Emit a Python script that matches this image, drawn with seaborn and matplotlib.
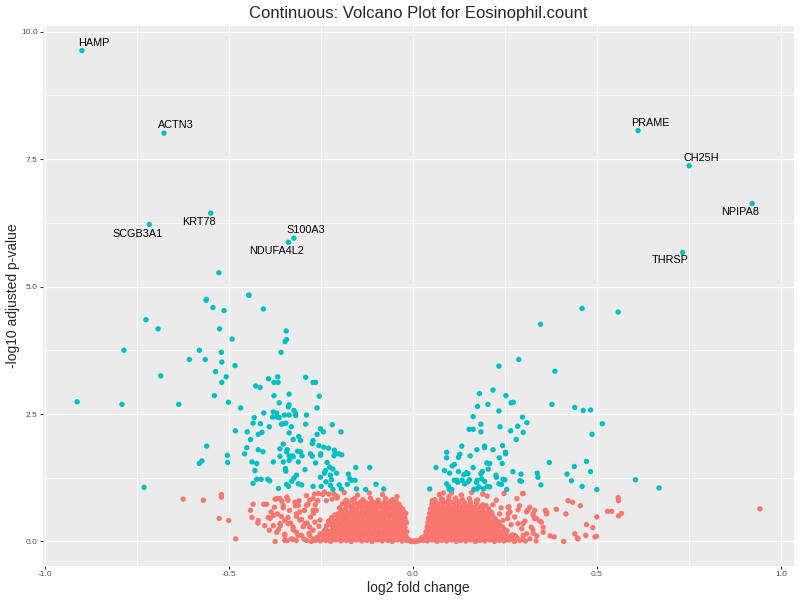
import pandas as pd
import matplotlib
matplotlib.use("Agg")
import matplotlib.pyplot as plt
from matplotlib.ticker import MultipleLocator, FixedLocator
import seaborn as sns

# -----------------------------
# Data
# -----------------------------
# labelled genes: name, log2 fold change, -log10 adjusted p, label offset (px)
label_genes = ["HAMP", "ACTN3", "SCGB3A1", "KRT78", "S100A3", "NDUFA4L2",
               "PRAME", "CH25H", "NPIPA8", "THRSP"]
label_fc = [-0.899, -0.676, -0.716, -0.549, -0.323, -0.338, 0.612, 0.751, 0.922, 0.733]
label_p = [9.63, 8.01, 6.22, 6.44, 5.95, 5.87, 8.06, 7.37, 6.63, 5.67]
label_dx = [12, 12, -12, -12, 12, -12, 12, 12, -12, -12]
label_dy = [8, 8, -10, -9, 8, -9, 8, 8, -9, -8]

# significant genes, negative fold change
sig_left = [
    (-0.446, 4.83), (-0.562, 4.73), (-0.543, 4.59), (-0.513, 4.53), (-0.406, 4.56),
    (-0.725, 4.35), (-0.692, 4.17), (-0.525, 4.17), (-0.344, 4.13), (-0.343, 3.96),
    (-0.491, 3.97), (-0.347, 3.92), (-0.785, 3.75), (-0.580, 3.75), (-0.520, 3.71),
    (-0.358, 3.71), (-0.607, 3.57), (-0.564, 3.57), (-0.519, 3.52), (-0.483, 3.45),
    (-0.536, 3.33), (-0.685, 3.25), (-0.507, 3.23), (-0.519, 3.12), (-0.392, 3.19),
    (-0.367, 3.23), (-0.366, 3.12), (-0.377, 3.12), (-0.291, 3.22), (-0.271, 3.12),
    (-0.264, 3.12), (-0.427, 3.05), (-0.415, 3.02), (-0.377, 2.86), (-0.336, 2.89),
    (-0.254, 2.85), (-0.539, 2.86), (-0.501, 2.73), (-0.912, 2.74), (-0.790, 2.69),
    (-0.636, 2.69), (-0.468, 2.62), (-0.363, 2.72), (-0.336, 2.68), (-0.338, 2.64),
    (-0.260, 2.62), (-0.323, 2.57), (-0.319, 2.52), (-0.318, 2.47), (-0.405, 2.52),
    (-0.379, 2.54), (-0.370, 2.52), (-0.369, 2.44), (-0.363, 2.43), (-0.349, 2.48),
    (-0.336, 2.48), (-0.381, 2.44), (-0.431, 2.43), (-0.434, 2.32), (-0.352, 2.31),
    (-0.345, 2.32), (-0.357, 2.30), (-0.330, 2.25), (-0.289, 2.48), (-0.291, 2.30),
    (-0.219, 2.29), (-0.414, 2.31), (-0.390, 2.25), (-0.482, 2.17), (-0.450, 2.15),
    (-0.410, 2.14), (-0.420, 2.10), (-0.336, 2.13), (-0.251, 2.21), (-0.243, 2.15),
    (-0.260, 2.10), (-0.195, 2.15), (-0.441, 2.00), (-0.325, 2.00), (-0.310, 2.06),
    (-0.305, 1.98), (-0.271, 1.98), (-0.273, 1.92), (-0.255, 1.88), (-0.242, 1.85),
    (-0.560, 1.87), (-0.451, 1.84), (-0.457, 1.72), (-0.420, 1.80), (-0.407, 1.76),
    (-0.352, 1.91), (-0.361, 1.82), (-0.341, 1.80), (-0.343, 1.76), (-0.313, 1.77),
    (-0.305, 1.76), (-0.301, 1.68), (-0.327, 1.68), (-0.336, 1.68), (-0.278, 1.72),
    (-0.273, 1.67), (-0.251, 1.69), (-0.250, 1.72), (-0.229, 1.83), (-0.213, 1.79),
    (-0.211, 1.72), (-0.200, 1.72), (-0.193, 1.70), (-0.214, 1.68), (-0.264, 1.54),
    (-0.361, 1.67), (-0.352, 1.56), (-0.336, 1.59), (-0.325, 1.66), (-0.346, 1.43),
    (-0.345, 1.38), (-0.311, 1.56), (-0.293, 1.41), (-0.233, 1.55), (-0.237, 1.39),
    (-0.226, 1.46), (-0.217, 1.42), (-0.207, 1.34), (-0.580, 1.53), (-0.573, 1.58),
    (-0.504, 1.69), (-0.503, 1.55), (-0.437, 1.56), (-0.424, 1.53), (-0.379, 1.56),
    (-0.429, 1.39), (-0.412, 1.22), (-0.424, 1.22), (-0.394, 1.22), (-0.389, 1.19),
    (-0.323, 1.24), (-0.316, 1.30), (-0.329, 1.18), (-0.311, 1.13), (-0.338, 1.08),
    (-0.302, 1.11), (-0.240, 1.34), (-0.224, 1.30), (-0.175, 1.32), (-0.171, 1.23),
    (-0.166, 1.20), (-0.157, 1.20), (-0.155, 1.45), (-0.117, 1.45), (-0.251, 1.26),
    (-0.221, 1.21), (-0.236, 1.17), (-0.200, 1.11), (-0.194, 1.03), (-0.217, 1.02),
    (-0.224, 1.10), (-0.271, 1.08), (-0.249, 1.08), (-0.434, 1.14), (-0.365, 1.04),
    (-0.343, 1.12), (-0.153, 1.03), (-0.100, 1.12), (-0.079, 1.03), (-0.128, 1.02),
    (-0.178, 1.12), (-0.730, 1.06), (-0.527, 5.27), (-0.445, 4.83), (-0.561, 4.75),
]

# significant genes, positive fold change
sig_right = [
    (0.460, 4.57), (0.558, 4.50), (0.347, 4.26), (0.288, 3.57), (0.234, 3.44),
    (0.386, 3.34), (0.218, 2.97), (0.181, 2.90), (0.253, 2.86), (0.176, 2.65),
    (0.204, 2.69), (0.267, 2.72), (0.273, 2.73), (0.378, 2.69), (0.440, 2.63),
    (0.463, 2.57), (0.483, 2.58), (0.164, 2.45), (0.234, 2.56), (0.298, 2.44),
    (0.310, 2.33), (0.515, 2.31), (0.185, 2.30), (0.153, 2.20), (0.164, 2.20),
    (0.185, 2.15), (0.237, 2.25), (0.285, 2.26), (0.266, 2.17), (0.300, 2.14),
    (0.487, 2.10), (0.281, 2.00), (0.133, 1.87), (0.195, 1.87), (0.195, 1.84),
    (0.244, 1.88), (0.174, 1.80), (0.218, 1.80), (0.252, 1.75), (0.252, 1.72),
    (0.092, 1.75), (0.092, 1.64), (0.128, 1.71), (0.124, 1.65), (0.156, 1.68),
    (0.235, 1.64), (0.063, 1.45), (0.086, 1.39), (0.100, 1.34), (0.107, 1.48),
    (0.113, 1.51), (0.164, 1.45), (0.189, 1.37), (0.185, 1.33), (0.201, 1.54),
    (0.209, 1.53), (0.205, 1.42), (0.243, 1.53), (0.124, 1.37), (0.146, 1.35),
    (0.139, 1.31), (0.150, 1.33), (0.120, 1.20), (0.134, 1.20), (0.141, 1.13),
    (0.150, 1.17), (0.154, 1.21), (0.173, 1.16), (0.175, 1.20), (0.195, 1.18),
    (0.187, 1.23), (0.202, 1.08), (0.209, 1.07), (0.226, 1.30), (0.227, 1.26),
    (0.234, 1.13), (0.245, 1.22), (0.250, 1.21), (0.241, 1.12), (0.255, 1.02),
    (0.272, 1.37), (0.291, 1.19), (0.295, 1.18), (0.294, 1.32), (0.338, 1.34),
    (0.340, 1.26), (0.348, 1.11), (0.371, 1.55), (0.439, 1.47), (0.472, 1.57),
    (0.483, 1.37), (0.419, 1.32), (0.431, 1.19), (0.460, 1.08), (0.500, 1.02),
    (0.605, 1.21), (0.669, 1.05), (0.046, 1.03), (0.097, 1.08), (0.099, 1.02),
    (0.106, 1.02), (0.166, 1.02), (0.174, 1.03), (0.192, 1.03), (0.180, 1.07),
    (0.092, 1.13), (0.113, 1.20), (0.122, 1.16),
]

# non-significant genes, dense core near zero
core_left = [
    (-0.016, 0.02), (-0.029, 0.01), (-0.042, 0.03), (-0.056, 0.00), (-0.069, 0.02),
    (-0.083, 0.01), (-0.097, 0.03), (-0.111, 0.00), (-0.125, 0.02), (-0.139, 0.01),
    (-0.153, 0.03), (-0.167, 0.00), (-0.181, 0.02), (-0.195, 0.01), (-0.209, 0.03),
    (-0.223, 0.00), (-0.237, 0.02), (-0.251, 0.01), (-0.264, 0.02), (-0.276, 0.00),
    (-0.023, 0.05), (-0.036, 0.06), (-0.050, 0.04), (-0.063, 0.05), (-0.077, 0.06),
    (-0.090, 0.04), (-0.104, 0.05), (-0.118, 0.06), (-0.132, 0.04), (-0.146, 0.05),
    (-0.160, 0.06), (-0.174, 0.04), (-0.188, 0.05), (-0.202, 0.06), (-0.216, 0.04),
    (-0.230, 0.05), (-0.244, 0.06), (-0.258, 0.04), (-0.270, 0.05),
    (-0.019, 0.10), (-0.035, 0.09), (-0.049, 0.11), (-0.063, 0.10), (-0.076, 0.12),
    (-0.090, 0.09), (-0.104, 0.11), (-0.118, 0.10), (-0.132, 0.12), (-0.146, 0.09),
    (-0.160, 0.11), (-0.174, 0.10), (-0.188, 0.12), (-0.202, 0.09), (-0.216, 0.11),
    (-0.230, 0.10), (-0.245, 0.12), (-0.259, 0.08),
    (-0.024, 0.14), (-0.038, 0.15), (-0.052, 0.13), (-0.066, 0.14), (-0.080, 0.15),
    (-0.094, 0.13), (-0.108, 0.14), (-0.122, 0.15), (-0.136, 0.13), (-0.150, 0.14),
    (-0.164, 0.15), (-0.178, 0.13), (-0.192, 0.14), (-0.206, 0.15), (-0.220, 0.13),
    (-0.236, 0.14), (-0.252, 0.15),
    (-0.016, 0.19), (-0.030, 0.18), (-0.044, 0.20), (-0.057, 0.19), (-0.071, 0.21),
    (-0.085, 0.18), (-0.099, 0.20), (-0.113, 0.19), (-0.127, 0.21), (-0.141, 0.18),
    (-0.155, 0.20), (-0.169, 0.19), (-0.183, 0.21), (-0.197, 0.18), (-0.211, 0.20),
    (-0.226, 0.19), (-0.241, 0.21),
    (-0.023, 0.23), (-0.037, 0.24), (-0.051, 0.22), (-0.064, 0.23), (-0.078, 0.24),
    (-0.092, 0.22), (-0.106, 0.23), (-0.120, 0.24), (-0.134, 0.22), (-0.148, 0.23),
    (-0.162, 0.24), (-0.176, 0.22), (-0.190, 0.23), (-0.204, 0.24), (-0.219, 0.22),
    (-0.236, 0.24),
    (-0.021, 0.28), (-0.035, 0.27), (-0.049, 0.29), (-0.063, 0.28), (-0.077, 0.30),
    (-0.091, 0.27), (-0.105, 0.29), (-0.119, 0.28), (-0.133, 0.30), (-0.147, 0.27),
    (-0.161, 0.29), (-0.175, 0.28), (-0.189, 0.30), (-0.203, 0.27), (-0.218, 0.29),
    (-0.234, 0.31),
    (-0.027, 0.32), (-0.041, 0.33), (-0.055, 0.31), (-0.069, 0.32), (-0.083, 0.33),
    (-0.097, 0.31), (-0.111, 0.32), (-0.125, 0.33), (-0.139, 0.31), (-0.153, 0.32),
    (-0.167, 0.33), (-0.181, 0.31), (-0.195, 0.32), (-0.210, 0.33), (-0.225, 0.34),
    (-0.017, 0.37), (-0.031, 0.36), (-0.045, 0.38), (-0.058, 0.37), (-0.072, 0.39),
    (-0.086, 0.36), (-0.100, 0.38), (-0.114, 0.37), (-0.128, 0.39), (-0.142, 0.36),
    (-0.156, 0.38), (-0.170, 0.37), (-0.184, 0.39), (-0.198, 0.36), (-0.213, 0.38),
    (-0.229, 0.40),
    (-0.023, 0.41), (-0.037, 0.42), (-0.051, 0.40), (-0.065, 0.41), (-0.079, 0.42),
    (-0.093, 0.40), (-0.107, 0.41), (-0.121, 0.42), (-0.135, 0.40), (-0.149, 0.41),
    (-0.163, 0.42), (-0.177, 0.40), (-0.191, 0.41), (-0.206, 0.42), (-0.222, 0.43),
    (-0.022, 0.46), (-0.036, 0.45), (-0.050, 0.47), (-0.064, 0.46), (-0.078, 0.48),
    (-0.092, 0.45), (-0.106, 0.47), (-0.120, 0.46), (-0.134, 0.48), (-0.148, 0.45),
    (-0.162, 0.47), (-0.176, 0.46), (-0.190, 0.48), (-0.205, 0.45), (-0.220, 0.47),
    (-0.028, 0.50), (-0.042, 0.51), (-0.056, 0.49), (-0.070, 0.50), (-0.084, 0.51),
    (-0.098, 0.49), (-0.112, 0.50), (-0.126, 0.51), (-0.140, 0.49), (-0.154, 0.50),
    (-0.168, 0.51), (-0.182, 0.49), (-0.196, 0.50), (-0.212, 0.52),
    (-0.019, 0.55), (-0.033, 0.54), (-0.047, 0.56), (-0.061, 0.55), (-0.075, 0.57),
    (-0.089, 0.54), (-0.103, 0.56), (-0.117, 0.55), (-0.131, 0.57), (-0.145, 0.54),
    (-0.159, 0.56), (-0.173, 0.55), (-0.188, 0.57), (-0.203, 0.54),
    (-0.025, 0.59), (-0.040, 0.60), (-0.054, 0.58), (-0.068, 0.59), (-0.082, 0.60),
    (-0.096, 0.58), (-0.110, 0.59), (-0.124, 0.60), (-0.138, 0.58), (-0.152, 0.59),
    (-0.166, 0.60), (-0.181, 0.58), (-0.196, 0.61),
    (-0.028, 0.64), (-0.042, 0.63), (-0.056, 0.65), (-0.070, 0.64), (-0.084, 0.66),
    (-0.098, 0.63), (-0.112, 0.65), (-0.126, 0.64), (-0.140, 0.66), (-0.154, 0.63),
    (-0.168, 0.65), (-0.183, 0.64), (-0.199, 0.66),
    (-0.034, 0.68), (-0.049, 0.69), (-0.063, 0.67), (-0.077, 0.68), (-0.091, 0.69),
    (-0.105, 0.67), (-0.119, 0.68), (-0.134, 0.69), (-0.149, 0.67), (-0.164, 0.68),
    (-0.180, 0.70),
    (-0.037, 0.73), (-0.053, 0.72), (-0.068, 0.74), (-0.083, 0.73), (-0.098, 0.75),
    (-0.113, 0.72), (-0.128, 0.74), (-0.143, 0.73), (-0.158, 0.75), (-0.174, 0.72),
    (-0.191, 0.74),
    (-0.045, 0.77), (-0.062, 0.78), (-0.078, 0.76), (-0.094, 0.77), (-0.110, 0.78),
    (-0.126, 0.76), (-0.142, 0.77), (-0.160, 0.78), (-0.178, 0.76),
    (-0.055, 0.82), (-0.074, 0.84), (-0.094, 0.81), (-0.115, 0.85), (-0.136, 0.82),
    (-0.158, 0.84), (-0.181, 0.81), (-0.206, 0.85),
    (-0.082, 0.92), (-0.118, 0.95), (-0.150, 0.91), (-0.186, 0.96), (-0.214, 0.93),
    (-0.240, 0.97),
]

core_right = [
    (0.028, 0.02), (0.040, 0.01), (0.053, 0.03), (0.066, 0.00), (0.079, 0.02),
    (0.092, 0.01), (0.105, 0.03), (0.118, 0.00), (0.131, 0.02), (0.144, 0.01),
    (0.157, 0.03), (0.170, 0.00), (0.183, 0.02), (0.196, 0.01), (0.209, 0.03),
    (0.222, 0.00), (0.235, 0.02), (0.248, 0.01), (0.262, 0.03), (0.276, 0.00),
    (0.291, 0.02), (0.306, 0.01),
    (0.034, 0.05), (0.047, 0.06), (0.060, 0.04), (0.073, 0.05), (0.086, 0.06),
    (0.099, 0.04), (0.112, 0.05), (0.125, 0.06), (0.138, 0.04), (0.151, 0.05),
    (0.164, 0.06), (0.177, 0.04), (0.190, 0.05), (0.203, 0.06), (0.216, 0.04),
    (0.229, 0.05), (0.242, 0.06), (0.255, 0.04), (0.269, 0.05), (0.284, 0.06),
    (0.299, 0.04),
    (0.031, 0.10), (0.045, 0.09), (0.058, 0.11), (0.071, 0.10), (0.084, 0.12),
    (0.098, 0.09), (0.111, 0.11), (0.124, 0.10), (0.138, 0.12), (0.151, 0.09),
    (0.164, 0.11), (0.178, 0.10), (0.191, 0.12), (0.205, 0.09), (0.218, 0.11),
    (0.232, 0.10), (0.246, 0.12), (0.261, 0.09), (0.279, 0.11),
    (0.038, 0.14), (0.052, 0.15), (0.065, 0.13), (0.078, 0.14), (0.091, 0.15),
    (0.105, 0.13), (0.118, 0.14), (0.131, 0.15), (0.145, 0.13), (0.158, 0.14),
    (0.171, 0.15), (0.185, 0.13), (0.198, 0.14), (0.212, 0.15), (0.225, 0.13),
    (0.239, 0.14), (0.253, 0.15), (0.270, 0.13),
    (0.036, 0.19), (0.049, 0.18), (0.062, 0.20), (0.075, 0.19), (0.088, 0.21),
    (0.102, 0.18), (0.115, 0.20), (0.128, 0.19), (0.142, 0.21), (0.155, 0.18),
    (0.169, 0.20), (0.182, 0.19), (0.196, 0.21), (0.210, 0.18), (0.224, 0.20),
    (0.239, 0.19), (0.256, 0.21),
    (0.043, 0.23), (0.056, 0.24), (0.069, 0.22), (0.082, 0.23), (0.095, 0.24),
    (0.109, 0.22), (0.122, 0.23), (0.135, 0.24), (0.149, 0.22), (0.162, 0.23),
    (0.176, 0.24), (0.189, 0.22), (0.203, 0.23), (0.217, 0.24), (0.232, 0.22),
    (0.248, 0.24),
    (0.039, 0.28), (0.052, 0.27), (0.065, 0.29), (0.078, 0.28), (0.091, 0.30),
    (0.105, 0.27), (0.118, 0.29), (0.131, 0.28), (0.145, 0.30), (0.158, 0.27),
    (0.172, 0.29), (0.185, 0.28), (0.199, 0.30), (0.213, 0.27), (0.228, 0.29),
    (0.245, 0.28),
    (0.046, 0.32), (0.059, 0.33), (0.072, 0.31), (0.085, 0.32), (0.098, 0.33),
    (0.112, 0.31), (0.125, 0.32), (0.138, 0.33), (0.152, 0.31), (0.165, 0.32),
    (0.179, 0.33), (0.192, 0.31), (0.206, 0.32), (0.221, 0.33), (0.237, 0.31),
    (0.041, 0.37), (0.054, 0.36), (0.067, 0.38), (0.080, 0.37), (0.094, 0.39),
    (0.107, 0.36), (0.120, 0.38), (0.134, 0.37), (0.147, 0.39), (0.161, 0.36),
    (0.174, 0.38), (0.188, 0.37), (0.202, 0.39), (0.217, 0.36), (0.233, 0.38),
    (0.048, 0.41), (0.061, 0.42), (0.074, 0.40), (0.087, 0.41), (0.101, 0.42),
    (0.114, 0.40), (0.127, 0.41), (0.141, 0.42), (0.154, 0.40), (0.168, 0.41),
    (0.181, 0.42), (0.195, 0.40), (0.210, 0.41), (0.226, 0.42),
    (0.043, 0.46), (0.056, 0.45), (0.070, 0.47), (0.083, 0.46), (0.097, 0.48),
    (0.110, 0.45), (0.124, 0.47), (0.137, 0.46), (0.151, 0.48), (0.165, 0.45),
    (0.178, 0.47), (0.192, 0.46), (0.207, 0.48), (0.223, 0.45),
    (0.050, 0.50), (0.063, 0.51), (0.077, 0.49), (0.090, 0.50), (0.104, 0.51),
    (0.117, 0.49), (0.131, 0.50), (0.144, 0.51), (0.158, 0.49), (0.172, 0.50),
    (0.186, 0.51), (0.201, 0.49), (0.217, 0.51),
    (0.046, 0.55), (0.059, 0.54), (0.073, 0.56), (0.086, 0.55), (0.100, 0.57),
    (0.113, 0.54), (0.127, 0.56), (0.141, 0.55), (0.155, 0.57), (0.169, 0.54),
    (0.183, 0.56), (0.198, 0.55), (0.214, 0.57),
    (0.053, 0.59), (0.066, 0.60), (0.080, 0.58), (0.093, 0.59), (0.107, 0.60),
    (0.120, 0.58), (0.134, 0.59), (0.148, 0.60), (0.162, 0.58), (0.176, 0.59),
    (0.191, 0.60), (0.207, 0.58),
    (0.048, 0.64), (0.062, 0.63), (0.076, 0.65), (0.090, 0.64), (0.104, 0.66),
    (0.118, 0.63), (0.132, 0.65), (0.146, 0.64), (0.160, 0.66), (0.175, 0.63),
    (0.190, 0.65), (0.206, 0.64),
    (0.056, 0.68), (0.070, 0.69), (0.084, 0.67), (0.098, 0.68), (0.112, 0.69),
    (0.126, 0.67), (0.140, 0.68), (0.154, 0.69), (0.168, 0.67), (0.183, 0.68),
    (0.199, 0.70),
    (0.052, 0.73), (0.067, 0.72), (0.082, 0.74), (0.097, 0.73), (0.112, 0.75),
    (0.127, 0.72), (0.142, 0.74), (0.157, 0.73), (0.173, 0.75), (0.190, 0.72),
    (0.061, 0.77), (0.077, 0.78), (0.093, 0.76), (0.109, 0.77), (0.125, 0.78),
    (0.141, 0.76), (0.157, 0.77), (0.174, 0.78),
    (0.060, 0.82), (0.078, 0.84), (0.097, 0.81), (0.116, 0.85), (0.135, 0.82),
    (0.154, 0.84), (0.174, 0.81),
    (0.072, 0.92), (0.105, 0.95), (0.132, 0.91), (0.160, 0.96), (0.190, 0.93),
]

core_zero = [
    (-0.010, 0.02), (-0.006, 0.01), (-0.002, 0.00), (0.002, 0.00), (0.006, 0.00),
    (0.010, 0.01), (0.014, 0.01), (0.018, 0.02), (0.022, 0.04), (-0.013, 0.05),
    (0.024, 0.07), (0.004, 0.01),
]

# non-significant genes, sparse outskirts
sparse_red = [
    (-0.624, 0.83), (-0.569, 0.81), (-0.520, 0.92), (-0.520, 0.87), (-0.526, 0.45),
    (-0.500, 0.41), (-0.481, 0.05), (-0.441, 0.61), (-0.437, 0.47), (-0.434, 0.73),
    (-0.421, 0.36), (-0.405, 0.73), (-0.402, 0.31), (-0.393, 0.47), (-0.397, 0.73),
    (-0.376, 0.67), (-0.374, 0.83), (-0.368, 0.54), (-0.365, 0.23), (-0.374, 0.00),
    (-0.360, 0.31), (-0.356, 0.79), (-0.342, 0.87), (-0.348, 0.14), (-0.342, 0.02),
    (-0.335, 0.61), (-0.339, 0.47), (-0.332, 0.36), (-0.325, 0.23), (-0.319, 0.70),
    (-0.316, 0.54), (-0.309, 0.80), (-0.307, 0.42), (-0.298, 0.29), (-0.294, 0.61),
    (-0.289, 0.90), (-0.285, 0.73), (-0.278, 0.48), (-0.282, 0.16), (-0.267, 0.93),
    (-0.258, 0.80), (-0.262, 0.61), (-0.252, 0.42), (-0.245, 0.92), (-0.325, 0.04),
    (-0.272, 0.02), (-0.235, 0.80), (-0.228, 0.93), (-0.219, 0.83), (-0.205, 0.88),
    (-0.185, 0.77), (-0.165, 0.81), (-0.147, 0.74), (-0.134, 0.80), (-0.111, 0.77),
    (-0.098, 0.70), (-0.075, 0.67), (-0.043, 0.88), (-0.046, 0.80), (-0.039, 0.64),
    (-0.030, 0.54), (-0.021, 0.42), (-0.312, 0.12), (-0.296, 0.05), (-0.287, 0.36),
    (-0.270, 0.55), (-0.255, 0.30), (-0.265, 0.72), (-0.352, 0.66), (-0.385, 0.58),
    (-0.420, 0.41), (-0.388, 0.45), (-0.379, 0.51), (-0.370, 0.84), (-0.361, 0.84),
    (-0.339, 0.81), (-0.352, 0.71), (-0.357, 0.49), (-0.348, 0.41), (-0.361, 0.35),
    (-0.339, 0.35), (-0.379, 0.31), (-0.390, 0.22), (-0.370, 0.18), (-0.348, 0.12),
    (-0.320, 0.77), (-0.311, 0.71), (-0.307, 0.58), (-0.316, 0.49), (-0.302, 0.43),
    (-0.325, 0.28), (-0.316, 0.18), (-0.302, 0.12), (-0.330, 0.05), (-0.280, 0.12),
    (-0.280, 0.81), (-0.271, 0.84), (-0.257, 0.94), (-0.289, 0.71), (-0.271, 0.61),
    (-0.293, 0.35), (-0.266, 0.38), (-0.280, 0.28), (-0.271, 0.22), (-0.289, 0.02),
    (-0.316, 0.02), (-0.348, 0.02),
    (0.943, 0.64), (0.558, 0.86), (0.559, 0.80), (0.422, 0.80), (0.434, 0.77),
    (0.455, 0.70), (0.390, 0.63), (0.360, 0.61), (0.364, 0.57), (0.416, 0.54),
    (0.500, 0.48), (0.529, 0.59), (0.540, 0.59), (0.567, 0.55), (0.559, 0.50),
    (0.472, 0.33), (0.489, 0.27), (0.440, 0.15), (0.447, 0.07), (0.470, 0.12),
    (0.495, 0.09), (0.499, 0.10), (0.410, 0.00), (0.373, 0.11), (0.384, 0.09),
    (0.335, 0.01), (0.337, 0.11), (0.331, 0.61), (0.313, 0.62), (0.298, 0.94),
    (0.283, 0.84), (0.261, 0.68), (0.264, 0.58), (0.327, 0.51), (0.336, 0.45),
    (0.305, 0.40), (0.345, 0.40), (0.354, 0.28), (0.326, 0.23), (0.296, 0.25),
    (0.236, 0.54), (0.248, 0.94), (0.227, 0.81), (0.277, 0.48), (0.286, 0.35),
    (0.309, 0.15), (0.272, 0.12), (0.227, 0.28), (0.245, 0.41), (0.083, 0.95),
    (0.098, 0.88), (0.081, 0.82), (0.176, 0.81), (0.202, 0.89), (0.053, 0.80),
    (0.252, 0.18), (0.318, 0.05), (0.290, 0.70), (0.267, 0.33), (0.218, 0.72),
    (0.240, 0.66), (0.258, 0.45), (0.300, 0.94), (0.259, 0.67), (0.286, 0.62),
    (0.259, 0.54), (0.309, 0.58), (0.318, 0.67), (0.327, 0.54), (0.331, 0.45),
    (0.363, 0.54), (0.349, 0.38), (0.322, 0.28), (0.300, 0.35), (0.354, 0.18),
    (0.300, 0.12), (0.327, 0.16), (0.449, 0.05),
]

# -----------------------------
# Build table
# -----------------------------
sig_pts = list(zip(label_fc, label_p)) + sig_left + sig_right
ns_pts = core_left + core_right + core_zero + sparse_red

df = pd.DataFrame(
    ns_pts + sig_pts,
    columns=["log2fc", "neglog10p"]
)
df["group"] = ["not significant"] * len(ns_pts) + ["significant"] * len(sig_pts)

# -----------------------------
# Plot
# -----------------------------
sns.set_style("darkgrid", {
    "axes.facecolor": "#EBEBEB",
    "grid.color": "white",
})
plt.rcParams["font.family"] = ["Liberation Sans", "DejaVu Sans"]
plt.rcParams["axes.unicode_minus"] = False

fig = plt.figure(figsize=(8, 6), dpi=100)
ax = fig.add_axes([43 / 800, 1 - 566 / 600, 751 / 800, 540 / 600])

sns.scatterplot(
    data=df,
    x="log2fc",
    y="neglog10p",
    hue="group",
    palette={"not significant": "#F8766D", "significant": "#00BFC4"},
    s=15,
    linewidth=0,
    legend=False,
    ax=ax,
    zorder=3
)

for name, fx, py, dx, dy in zip(label_genes, label_fc, label_p, label_dx, label_dy):
    ax.annotate(
        name,
        (fx, py),
        xytext=(dx, dy),
        textcoords="offset pixels",
        ha="center",
        va="center",
        fontsize=7.8,
        color="black",
        zorder=4
    )

# ggplot-like expansion of 5%
xr = df["log2fc"].max() - df["log2fc"].min()
yr = df["neglog10p"].max() - df["neglog10p"].min()
ax.set_xlim(df["log2fc"].min() - 0.05 * xr, df["log2fc"].max() + 0.05 * xr)
ax.set_ylim(df["neglog10p"].min() - 0.05 * yr, df["neglog10p"].max() + 0.05 * yr)

ax.xaxis.set_major_locator(FixedLocator([-1.0, -0.5, 0.0, 0.5, 1.0]))
ax.xaxis.set_minor_locator(MultipleLocator(0.25))
ax.yaxis.set_major_locator(FixedLocator([0.0, 2.5, 5.0, 7.5, 10.0]))
ax.yaxis.set_minor_locator(MultipleLocator(1.25))
ax.set_xticklabels(["-1.0", "-0.5", "0.0", "0.5", "1.0"])
ax.set_yticklabels(["0.0", "2.5", "5.0", "7.5", "10.0"])

ax.grid(which="major", color="white", linewidth=1.0)
ax.grid(which="minor", color="white", linewidth=0.5)
ax.set_axisbelow(True)
for sp in ax.spines.values():
    sp.set_visible(False)

ax.tick_params(which="major", length=2.4, width=0.8, color="#333333",
               labelsize=6, labelcolor="#4D4D4D", pad=1.5,
               bottom=True, left=True)
ax.tick_params(which="minor", length=0)

ax.set_title("Continuous: Volcano Plot for Eosinophil.count", fontsize=12, pad=5.5)
ax.set_xlabel("log2 fold change", fontsize=10)
ax.set_ylabel("-log10 adjusted p-value", fontsize=10)
ax.xaxis.set_label_coords(0.5, -0.027)
ax.yaxis.set_label_coords(-0.031, 0.5)

fig.savefig("out.png", dpi=100)
plt.close(fig)

print("Saved -> out.png")
